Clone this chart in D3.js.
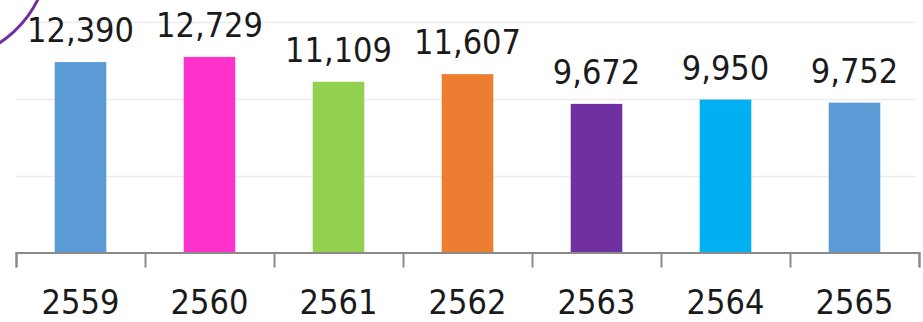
<!DOCTYPE html>
<html>
<head>
<meta charset="utf-8">
<script src="https://cdn.jsdelivr.net/npm/d3@7"></script>
<style>
  html, body { margin: 0; padding: 0; background: #fff; }
  svg { display: block; }
  text { font-family: "DejaVu Sans Condensed", "DejaVu Sans", sans-serif; font-stretch: condensed; }
</style>
</head>
<body>
<svg id="chart" width="923" height="322"></svg>
<script>
const categories = ["2559", "2560", "2561", "2562", "2563", "2564", "2565"];
const values = [12390, 12729, 11109, 11607, 9672, 9950, 9752];
const colors = ["#5b9bd5", "#ff33cc", "#92d050", "#ed7d31", "#7030a0", "#00b0f0", "#5b9bd5"];
const gridValues = [5000, 10000, 15000];

(function () {
const svg = d3.select("#chart");
const plotLeft = 16, plotRight = 919, plotBase = 252.5, plotTop = 22;

const x = d3.scaleBand().domain(categories).range([plotLeft, plotRight]).paddingInner(0.6).paddingOuter(0.3);
const xStep = d3.scaleLinear().domain([0, categories.length]).range([plotLeft, plotRight]);
const y = d3.scaleLinear().domain([0, 15000]).range([plotBase, plotTop]);

// gridlines
svg.append("g").selectAll("line").data(gridValues).join("line")
  .attr("x1", plotLeft).attr("x2", plotRight - 3)
  .attr("y1", d => Math.round(y(d)) + 0.5).attr("y2", d => Math.round(y(d)) + 0.5)
  .attr("stroke", "#ececec").attr("stroke-width", 1.5);

// bars
svg.append("g").selectAll("rect").data(values).join("rect")
  .attr("x", (d, i) => x(categories[i]))
  .attr("width", x.bandwidth())
  .attr("y", d => y(d))
  .attr("height", d => y(0) - y(d))
  .attr("fill", (d, i) => colors[i]);

// axis with boundary ticks
const axis = d3.axisBottom(xStep).tickValues(d3.range(0, categories.length + 1)).tickFormat("").tickSize(15).tickSizeOuter(15);
const ax = svg.append("g").attr("transform", `translate(0,${plotBase})`).call(axis);
ax.select(".domain").attr("stroke", "#8a8a8a").attr("stroke-width", 2);
ax.selectAll(".tick line").attr("stroke", "#8a8a8a").attr("stroke-width", 2);

// category labels
svg.append("g").selectAll("text").data(categories).join("text")
  .attr("x", d => x(d) + x.bandwidth() / 2)
  .attr("y", 314)
  .attr("text-anchor", "middle")
  .attr("font-size", 34)
  .attr("fill", "#1a1a1a")
  .text(d => d);

// value labels
svg.append("g").selectAll("text").data(values).join("text")
  .attr("x", (d, i) => x(categories[i]) + x.bandwidth() / 2)
  .attr("y", d => y(d) - 20)
  .attr("text-anchor", "middle")
  .attr("font-size", 34)
  .attr("fill", "#1a1a1a")
  .text(d => d3.format(",")(d));

// decorative purple arc in the top-left corner
svg.append("path")
  .attr("transform", "translate(-62,-50)")
  .attr("d", d3.arc()({innerRadius: 110, outerRadius: 113, startAngle: Math.PI * 0.45, endAngle: Math.PI * 0.95}))
  .attr("fill", "#7030a0");
})();
</script>
</body>
</html>
